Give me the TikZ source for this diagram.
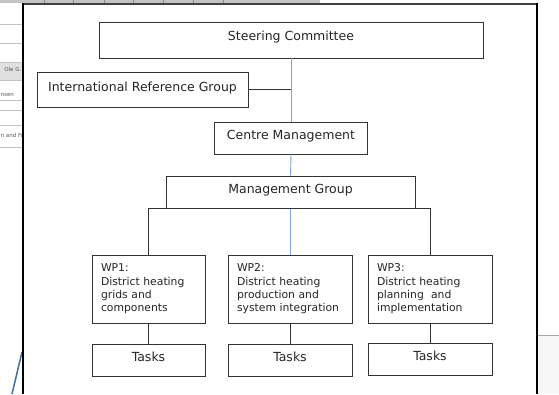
\documentclass[tikz,border=0pt]{standalone}
\usepackage{fontspec}
\setmainfont{DejaVu Sans}
\definecolor{boxline}{HTML}{333333}
\definecolor{orgblue}{HTML}{7FA6D8}
\definecolor{tablegray}{HTML}{C4C4C4}
\definecolor{diagblue}{HTML}{3D6FA8}
\tikzset{every picture/.style={x=1pt,y=-1pt},
  box/.style={draw=boxline, line width=0.9pt, text=black!85, inner sep=0pt},
  head/.style={box, font=\fontsize{12.5}{15}\selectfont, text height=9pt, text depth=6pt},
  wpbox/.style={box, font=\fontsize{10.8}{13.3}\selectfont, align=left, minimum height=68pt},
  link/.style={draw=boxline, line width=0.9pt},
  bluelink/.style={draw=orgblue, line width=0.9pt},
  frag/.style={font=\fontsize{5.5}{6}\selectfont, text=black!65, inner sep=0pt}}

\begin{document}
\begin{tikzpicture}
        \useasboundingbox (0,0) rectangle (559,394);
        \fill[white] (0,0) rectangle (559,394);

        \fill[tablegray] (0,0) rectangle (320,3);
        \foreach \x in {44,73,104,133,163,193,223}
        \draw[black!45, line width=0.6pt] (\x,0) -- (\x,3);
        \fill[black!12] (0,62) rectangle (22,80);
        \foreach \y in {24,43,62,80,100,110,125,147}
        \draw[tablegray, line width=0.8pt] (0,\y) -- (22,\y);
        \node[frag, anchor=east] (fragA) at (21.5,69) {Ole G.};
        \node[frag, anchor=west] (fragB) at (0.5,95) {nsen};
        \node[frag, anchor=west] (fragC) at (0.5,135) {n and Fr};
        \draw[diagblue, line width=1.5pt] (12,394) -- (22,352);
        \fill[black!3] (538,335) rectangle (559,394);
        \draw[black!35, line width=0.8pt] (538,335) -- (559,335);

        \draw[black!75, line width=1.3pt] (23,4) -- (537,4);
        \draw[black, line width=2pt] (23,3.4) -- (23,394);
        \draw[black, line width=2pt] (537,3.4) -- (537,394);

        \node[head, text depth=8pt, minimum width=384pt, minimum height=36pt] (sc) at (291,40) {Steering Committee};
        \node[head, minimum width=211pt, minimum height=35pt] (irg) at (142.5,89.5) {International Reference Group};
        \node[head, minimum width=153pt, minimum height=32pt] (cm) at (291,138) {Centre Management};
        \node[head, minimum width=249pt, minimum height=32pt] (mg) at (290.5,192) {Management Group};

        \node[wpbox, text width=95pt, minimum width=113pt] (wp1) at (148.5,289) {WP1:\\District heating\\grids and\\components};
        \node[wpbox, text width=106pt, minimum width=124pt] (wp2) at (290,289) {WP2:\\District heating\\production and\\system integration};
        \node[wpbox, text width=106pt, minimum width=124pt] (wp3) at (430,289) {WP3:\\District heating\\planning~ and\\implementation};

        \node[head, minimum width=113pt, minimum height=32pt] (t1) at (148.5,360) {Tasks};
        \node[head, minimum width=124pt, minimum height=32pt] (t2) at (290,360) {Tasks};
        \node[head, minimum width=124pt, minimum height=32pt] (t3) at (430,359) {Tasks};

        \draw[bluelink] (sc.south) -- (cm.north);
        \draw[bluelink] (cm.south) -- (mg.north);
        \draw[bluelink] (wp2.north |- mg.south) -- (wp2.north);
        \draw[link] (irg.east) -- (irg.east -| cm.north);
        \draw[link] (wp1.north) |- (mg.south) -| (wp3.north);
        \foreach \from/\to in {wp1/t1, wp2/t2, wp3/t3}
        \draw[link] (\from.south) -- (\to.north);
\end{tikzpicture}
\end{document}
